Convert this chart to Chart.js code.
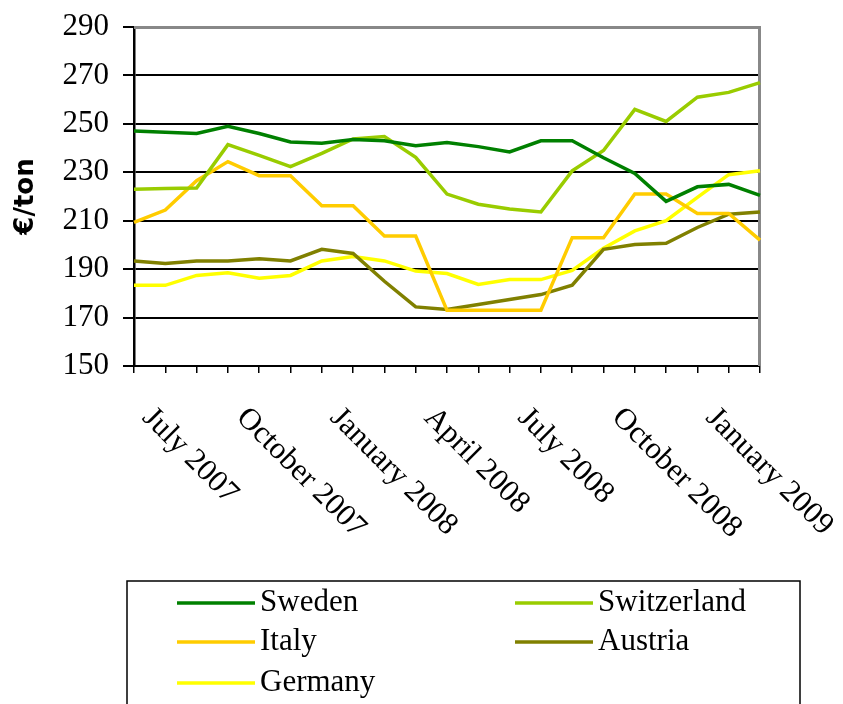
<!DOCTYPE html>
<html><head><meta charset="utf-8">
<script src="https://cdn.jsdelivr.net/npm/chart.js@4/dist/chart.umd.min.js"></script>
<style>html,body{margin:0;padding:0;background:#fff}canvas{display:block}</style>
</head><body>
<canvas id="c" width="843" height="704"></canvas>
<script>
const categories = ["July 2007","August 2007","September 2007","October 2007","November 2007","December 2007",
  "January 2008","February 2008","March 2008","April 2008","May 2008","June 2008",
  "July 2008","August 2008","September 2008","October 2008","November 2008","December 2008",
  "January 2009","February 2009","March 2009"];
const labelEvery = 3;
const yMin = 150, yMax = 290, yStep = 20;
const yTitle = "€/ton";

const sweden      = [247, 246.5, 246, 249, 246, 242.5, 242, 243.5, 243, 241, 242.3, 240.6, 238.4, 243, 243, 236, 229.5, 218, 224, 225, 220.5];
const switzerland = [223, 223.3, 223.5, 241.4, 237, 232.3, 237.8, 243.8, 244.8, 236.2, 221, 216.8, 214.8, 213.6, 230.6, 239, 256, 251, 261, 263, 267];
const italy       = [209.3, 214.4, 226.5, 234.4, 228.6, 228.6, 216.2, 216.2, 203.7, 203.7, 173, 173, 173, 173, 203, 203, 221, 221, 213, 213, 202];
const austria     = [193.4, 192.3, 193.4, 193.4, 194.3, 193.4, 198.2, 196.5, 185, 174.4, 173.3, 175.4, 177.5, 179.5, 183.4, 198.2, 200.2, 200.7, 207.2, 212.7, 213.6];
const germany     = [183.3, 183.3, 187.4, 188.5, 186.2, 187.4, 193.4, 195.2, 193.4, 189.2, 188.2, 183.7, 185.7, 185.7, 189.5, 198.6, 205.8, 210, 219.6, 229, 230.6];

const seriesNames  = ["Sweden", "Switzerland", "Italy", "Austria", "Germany"];
const seriesValues = [sweden, switzerland, italy, austria, germany];
const seriesColors = ["#008000", "#99CC00", "#FFCC00", "#808000", "#FFFF00"];

const SERIF = "'Liberation Serif', 'DejaVu Serif', serif";

const extrasPlugin = {
  id: 'extras',
  beforeDatasetsDraw(chart) {
    const {ctx, chartArea: a} = chart;
    ctx.save();
    ctx.strokeStyle = '#888';
    ctx.lineWidth = 3;
    ctx.beginPath();
    ctx.moveTo(a.left, a.top + 0.5);
    ctx.lineTo(a.right - 0.5, a.top + 0.5);
    ctx.lineTo(a.right - 0.5, a.bottom);
    ctx.stroke();
    ctx.restore();
  },
  afterDraw(chart) {
    const {ctx} = chart;
    const xs = chart.scales.x;
    ctx.save();
    ctx.fillStyle = '#000';
    ctx.font = "31px " + SERIF;
    ctx.textAlign = 'left';
    ctx.textBaseline = 'middle';
    categories.forEach((lab, i) => {
      if (i % labelEvery !== 0) return;
      const x = xs.getPixelForValue(i);
      ctx.save();
      ctx.translate(x + 13, 413);
      ctx.rotate(Math.PI / 4);
      ctx.fillText(lab, 0, 0);
      ctx.restore();
    });
    ctx.restore();

    ctx.save();
    ctx.strokeStyle = '#000';
    ctx.lineWidth = 1.5;
    ctx.strokeRect(127, 581, 673, 140);
    const colX = [177, 515];
    const rowY = [603, 642, 683];
    ctx.font = "31px " + SERIF;
    ctx.textAlign = 'left';
    ctx.textBaseline = 'middle';
    chart.data.datasets.forEach((ds, i) => {
      const cx = colX[i % 2], cy = rowY[Math.floor(i / 2)];
      ctx.strokeStyle = ds.borderColor;
      ctx.lineWidth = 3.5;
      ctx.beginPath();
      ctx.moveTo(cx, cy);
      ctx.lineTo(cx + 78, cy);
      ctx.stroke();
      ctx.fillStyle = '#000';
      ctx.fillText(ds.label, cx + 83, cy);
    });
    ctx.restore();
  }
};

new Chart(document.getElementById('c'), {
  type: 'line',
  data: {
    labels: categories,
    datasets: seriesNames.map((n, i) => ({
      label: n,
      data: seriesValues[i],
      borderColor: seriesColors[i],
      backgroundColor: seriesColors[i],
      borderWidth: 3.5,
      pointRadius: 0,
      tension: 0,
      fill: false
    }))
  },
  options: {
    responsive: false,
    animation: false,
    events: [],
    layout: { padding: { left: 0, top: 27, right: 83, bottom: 0 } },
    plugins: { legend: { display: false }, tooltip: { enabled: false } },
    scales: {
      x: {
        offset: false,
        grid: { drawOnChartArea: false, drawTicks: true, tickLength: 7, color: '#000', lineWidth: 1.5 },
        border: { display: true, color: '#000', width: 2 },
        ticks: { display: false, autoSkip: false },
        afterFit(s) { s.height = 704 - 366; s.paddingLeft = 0; s.paddingRight = 0; }
      },
      y: {
        min: yMin, max: yMax,
        ticks: { stepSize: yStep, color: '#000', padding: 14, font: { family: SERIF, size: 31 } },
        grid: { color: '#000', lineWidth: 2, tickLength: 11, tickColor: '#000' },
        border: { display: true, color: '#000', width: 2.5 },
        title: { display: true, text: yTitle, color: '#000', padding: { top: 11, bottom: 0 },
                 font: { family: "'DejaVu Sans', sans-serif", size: 26, weight: 'bold' } },
        afterFit(s) { s.width = 134; s.paddingTop = 0; s.paddingBottom = 0; }
      }
    }
  },
  plugins: [extrasPlugin]
});
</script>
</body></html>
